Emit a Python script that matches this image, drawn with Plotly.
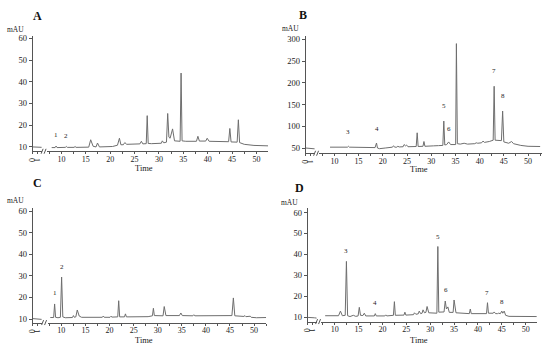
import plotly.graph_objects as go

W, H = 550, 348

# ---------------- data ----------------
# Panel A
A_stub = [(0.0, 10.0), (0.7, 10.0), (1.4, 9.9), (2.0, 9.8)]
A_trace = [(8.0, 9.7), (8.7, 9.7), (8.9, 10.4), (9.1, 9.7), (10.8, 9.8), (11.0, 10.2), (11.2, 9.8),
           (12.6, 9.8), (12.8, 10.2), (13.0, 9.8), (15.6, 9.9), (16.0, 13.3), (16.5, 10.3),
           (17.1, 10.0), (17.4, 11.8), (17.8, 10.0), (20.5, 10.2), (21.5, 10.8), (21.9, 14.0),
           (22.2, 11.0), (22.7, 11.0), (23.0, 12.0), (23.4, 11.2), (26.1, 11.4), (26.4, 12.6),
           (26.7, 11.4), (27.4, 11.5), (27.6, 24.4), (27.8, 11.6), (28.5, 11.5), (30.5, 11.7),
           (30.7, 12.8), (31.0, 11.9), (31.55, 12.2), (31.8, 25.4), (32.05, 14.5), (32.3, 14.0),
           (32.8, 18.3), (33.2, 12.8), (34.35, 12.6), (34.55, 44.0), (34.75, 12.8), (35.5, 12.6),
           (37.7, 12.6), (38.0, 14.9), (38.3, 12.7), (39.6, 12.7), (39.9, 14.0), (40.3, 12.6),
           (44.3, 12.4), (44.55, 18.5), (44.8, 12.3), (46.05, 12.2), (46.3, 22.5), (46.55, 12.0),
           (47.5, 11.2), (49.5, 10.7), (52.4, 10.5)]
A_peak_names = ["1", "2"]
A_peak_t = [8.9, 11.0]
A_peak_y = [12.9, 12.2]

# Panel B
B_stub = [(0.0, 50.0), (0.8, 49.5), (1.5, 48.5), (2.0, 48.0)]
B_trace = [(9.1, 52), (12.7, 52), (12.9, 54), (13.1, 52), (18.4, 51), (18.7, 61.5), (18.9, 50),
           (19.3, 48.5), (20.5, 50), (22.0, 52), (22.2, 55), (22.5, 52), (22.9, 52), (23.1, 54),
           (23.4, 52.5), (24.2, 53), (24.4, 58), (24.7, 55), (24.9, 57), (25.2, 53), (26.9, 53.5),
           (27.1, 85), (27.3, 53.5), (28.3, 54), (28.5, 65), (28.7, 54), (30.5, 55), (31.0, 56),
           (31.5, 55.5), (32.4, 56), (32.6, 112), (32.8, 57), (33.2, 58), (33.6, 64), (34.0, 58),
           (35.05, 58), (35.2, 290), (35.4, 60), (36.0, 59), (36.8, 61), (37.5, 59), (39.0, 60),
           (39.3, 62), (39.6, 61), (40.4, 62), (40.7, 66), (41.0, 63), (42.0, 65), (42.8, 68),
           (43.0, 192), (43.2, 68), (44.5, 67), (44.75, 135), (45.0, 64), (46.0, 61), (46.6, 65),
           (47.0, 60), (48.5, 56), (50.0, 54), (52.5, 53.5)]
B_peak_names = ["3", "4", "5", "6", "7", "8"]
B_peak_t = [12.9, 18.7, 32.6, 33.6, 43.0, 44.8]
B_peak_y = [72, 80, 133, 80, 214, 156]

# Panel C
C_stub = [(0.0, 10.2), (0.8, 10.1), (1.5, 10.0), (2.0, 9.8)]
C_trace = [(7.7, 10.7), (8.4, 10.7), (8.6, 17.0), (8.8, 10.8), (9.3, 10.6), (9.8, 10.8),
           (10.05, 29.5), (10.3, 11.0), (10.8, 10.6), (12.3, 10.7), (12.5, 11.6), (12.7, 10.8),
           (13.0, 11.0), (13.3, 14.2), (13.7, 11.4), (14.2, 10.8), (18.5, 10.8), (18.7, 11.4),
           (18.9, 10.8), (20.1, 10.8), (20.3, 11.3), (20.5, 10.9), (21.7, 11.0), (21.9, 18.5),
           (22.1, 11.0), (23.1, 11.0), (23.3, 12.4), (23.5, 11.0), (28.0, 11.1), (28.9, 11.5),
           (29.1, 15.0), (29.3, 11.6), (31.1, 11.5), (31.35, 15.8), (31.7, 11.6), (34.5, 11.6),
           (34.8, 12.8), (35.1, 11.6), (37.3, 11.5), (37.5, 12.0), (37.7, 11.5), (45.4, 11.6),
           (45.7, 19.8), (46.0, 11.5), (47.9, 11.2), (48.1, 11.6), (48.3, 11.1), (49.0, 11.0),
           (49.2, 11.3), (49.4, 10.8), (50.5, 10.6), (52.5, 10.7)]
C_peak_names = ["1", "2"]
C_peak_t = [8.6, 10.1]
C_peak_y = [19.5, 31.4]

# Panel D
D_stub = [(0.0, 10.0), (0.8, 10.0), (1.4, 9.8), (2.0, 9.6)]
D_trace = [(8.0, 10.8), (10.8, 10.8), (11.2, 13.0), (11.6, 10.8), (12.2, 11.0), (12.45, 36.7),
           (12.7, 10.8), (13.2, 10.4), (13.9, 11.0), (14.4, 10.5), (14.9, 10.7), (15.15, 14.8),
           (15.4, 11.0), (15.9, 10.9), (16.2, 12.0), (16.5, 10.7), (18.3, 10.7), (18.5, 11.8),
           (18.7, 10.7), (20.5, 10.7), (20.7, 11.2), (20.9, 10.7), (22.3, 11.0), (22.5, 17.5),
           (22.7, 11.0), (24.5, 11.1), (24.7, 12.5), (24.9, 11.1), (26.5, 11.3), (26.7, 12.2),
           (27.0, 11.5), (27.5, 11.7), (27.7, 13.0), (28.0, 11.8), (28.3, 12.0), (28.5, 13.6),
           (28.8, 12.2), (29.1, 12.4), (29.35, 15.2), (29.7, 12.2), (31.4, 12.0), (31.6, 43.8),
           (31.8, 12.5), (32.9, 12.6), (33.15, 17.8), (33.4, 14.0), (33.7, 15.0), (34.0, 12.4),
           (34.8, 12.4), (35.0, 18.3), (35.4, 12.2), (38.2, 11.8), (38.4, 14.0), (38.6, 11.8),
           (41.8, 11.8), (42.0, 17.0), (42.2, 12.0), (43.2, 12.0), (43.4, 12.6), (43.7, 11.8),
           (44.1, 11.8), (44.3, 12.0), (44.7, 11.8), (45.0, 13.0), (45.2, 12.0), (45.5, 13.0),
           (45.8, 11.0), (46.5, 10.5), (52.3, 10.4)]
D_peak_names = ["3", "4", "5", "6", "7", "8"]
D_peak_t = [12.45, 18.5, 31.6, 33.4, 42.0, 45.0]
D_peak_y = [39.0, 14.0, 45.4, 20.0, 18.7, 14.3]

panel_names = ["A", "B", "C", "D"]
x_ticks_main = [10, 15, 20, 25, 30, 35, 40, 45, 50]
x_ticks_stub = [0, 1]

# ---------------- layout geometry (pixels) ----------------
geom = {
    "A": dict(stub=(27, 36), main=(41, 265), xr=(6.95, 52.4), ydom=(33.3, 150), yr=(8.0, 61.1), dty=10,
              letter=(32, 13), mau=(10, 27), time=(140, 167), brk=38.5),
    "B": dict(stub=(303, 312), main=(316, 542), xr=(6.73, 52.9), ydom=(33.3, 152), yr=(38, 307.7), dty=50,
              letter=(300, 12), mau=(288, 26), time=(418, 168), brk=314),
    "C": dict(stub=(27, 36), main=(42, 263), xr=(7.13, 52.5), ydom=(207.3, 323.3), yr=(8.35, 61.6), dty=10,
              letter=(32, 182), mau=(10, 200), time=(140, 341), brk=39),
    "D": dict(stub=(305, 314), main=(318, 537), xr=(7.03, 52.4), ydom=(207.3, 322.3), yr=(8.0, 62.2), dty=10,
              letter=(297, 187), mau=(287, 202), time=(418, 341), brk=316),
}
data = {
    "A": (A_stub, A_trace, A_peak_names, A_peak_t, A_peak_y),
    "B": (B_stub, B_trace, B_peak_names, B_peak_t, B_peak_y),
    "C": (C_stub, C_trace, C_peak_names, C_peak_t, C_peak_y),
    "D": (D_stub, D_trace, D_peak_names, D_peak_t, D_peak_y),
}

FONT = "Liberation Serif, Times New Roman, serif"
LINE = "#6e6e6e"
AX = "#555555"
TXT = "#222222"

fig = go.Figure()
layout = dict(width=W, height=H, margin=dict(l=0, r=0, t=0, b=0), autosize=False,
              paper_bgcolor="white", plot_bgcolor="white", showlegend=False,
              font=dict(family=FONT, size=8, color=TXT), hovermode=False)
annotations = []
shapes = []

def fx(p):
    return p / W

def fy(p):
    return 1 - p / H

for i, name in enumerate(panel_names):
    g = geom[name]
    stub, trace, pn, pt, py = data[name]
    xs_id = 2 * i + 1
    xm_id = 2 * i + 2
    y_id = i + 1
    xs_key = "xaxis" if xs_id == 1 else f"xaxis{xs_id}"
    xm_key = f"xaxis{xm_id}"
    y_key = "yaxis" if y_id == 1 else f"yaxis{y_id}"
    xs_ref = "x" if xs_id == 1 else f"x{xs_id}"
    xm_ref = f"x{xm_id}"
    y_ref = "y" if y_id == 1 else f"y{y_id}"

    fig.add_trace(go.Scatter(x=[p[0] for p in stub], y=[p[1] for p in stub], mode="lines",
                             line=dict(color=LINE, width=1), xaxis=xs_ref, yaxis=y_ref))
    fig.add_trace(go.Scatter(x=[p[0] for p in trace], y=[p[1] for p in trace], mode="lines",
                             line=dict(color=LINE, width=1), xaxis=xm_ref, yaxis=y_ref))

    common_x = dict(showgrid=False, zeroline=False, showline=True, linecolor=AX, linewidth=1,
                    ticks="outside", ticklen=2, tickcolor=AX, ticklabelstandoff=-2,
                    tickfont=dict(family=FONT, size=8, color=TXT), anchor=y_ref, fixedrange=True)
    layout[xs_key] = dict(common_x, domain=[fx(g["stub"][0]), fx(g["stub"][1])], range=[-0.02, 1.8],
                          tickmode="array", tickvals=x_ticks_stub, ticktext=[str(v) for v in x_ticks_stub])
    layout[xm_key] = dict(common_x, domain=[fx(g["main"][0]), fx(g["main"][1])], range=list(g["xr"]),
                          tickmode="array", tickvals=x_ticks_main, ticktext=[str(v) for v in x_ticks_main],
                          minor=dict(dtick=2.5, tick0=0, ticklen=2, tickcolor=AX, ticks="outside", showgrid=False))
    layout[y_key] = dict(domain=[fy(g["ydom"][1]), fy(g["ydom"][0])], range=list(g["yr"]),
                         showgrid=False, zeroline=False, showline=True, linecolor=AX, linewidth=1,
                         ticks="outside", ticklen=3, tickcolor=AX, dtick=g["dty"], tick0=0,
                         tickfont=dict(family=FONT, size=8.5, color=TXT), anchor=xs_ref, fixedrange=True)

    # peak numbers
    for n, t, v in zip(pn, pt, py):
        annotations.append(dict(x=t, y=v, xref=xm_ref, yref=y_ref, text=n, showarrow=False,
                                xanchor="center", yanchor="bottom",
                                font=dict(family=FONT, size=7, color=TXT)))
    pa = dict(xref="paper", yref="paper", showarrow=False, xanchor="center", yanchor="middle")
    annotations.append(dict(pa, x=fx(g["letter"][0]), y=fy(g["letter"][1]), text=f"<b>{name}</b>",
                            font=dict(family=FONT, size=12, color="#111111")))
    annotations.append(dict(pa, x=fx(g["mau"][0]), y=fy(g["mau"][1]), text="mAU",
                            font=dict(family=FONT, size=7.5, color=TXT)))
    annotations.append(dict(pa, x=fx(g["time"][0]), y=fy(g["time"][1]), text="Time",
                            font=dict(family=FONT, size=8.5, color=TXT)))
    # axis break mark: two short slashes
    yb = g["ydom"][1]
    for dx in (-2.0, 1.0):
        shapes.append(dict(type="line", xref="paper", yref="paper",
                           x0=fx(g["brk"] + dx - 1), y0=fy(yb + 2.5),
                           x1=fx(g["brk"] + dx + 1), y1=fy(yb - 2.5),
                           line=dict(color=AX, width=1)))

layout["annotations"] = annotations
layout["shapes"] = shapes
fig.update_layout(**layout)
fig.write_html("out.html", config={"displayModeBar": False},
               post_script="document.body.style.margin='0';document.body.style.overflow='hidden';")
